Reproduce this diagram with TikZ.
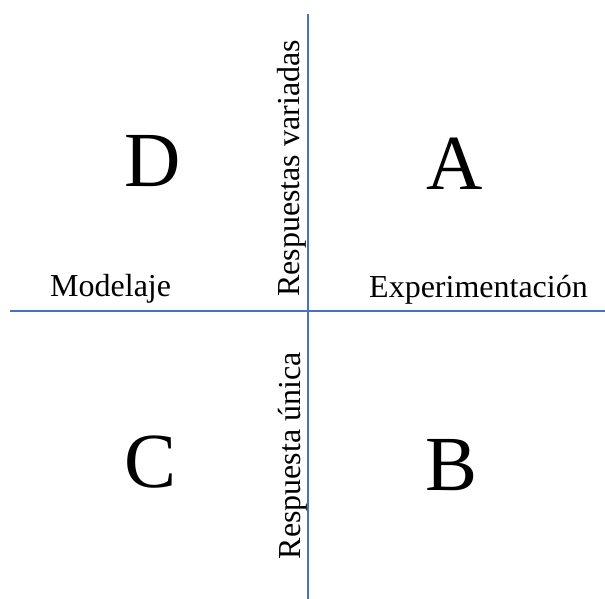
\documentclass[tikz,border=0pt]{standalone}
\usepackage{fontspec}
\setmainfont{Liberation Serif}
\definecolor{axisblue}{RGB}{68,114,196}
\tikzset{
	axisline/.style={axisblue, line width=1.4pt},
	label/.style={inner sep=0pt, font=\fontsize{32}{38}\selectfont},
	quadrant/.style={inner sep=0pt, font=\fontsize{78}{90}\selectfont}
}
\begin{document}
\begin{tikzpicture}[x=1pt, y=-1pt]
		\useasboundingbox (0,0) rectangle (605,599);

		\coordinate (top) at (308,14);
		\coordinate (bottom) at (308,599);
		\coordinate (left) at (10,311);
		\coordinate (right) at (605,311);
		\draw[axisline] (left) -- (right);
		\draw[axisline] (top) -- (bottom);

		\node[quadrant, anchor=base] (D) at (153,186) {D};
		\node[quadrant, anchor=base] (A) at (455,189) {A};
		\node[quadrant, anchor=base] (C) at (151,487) {C};
		\node[quadrant, anchor=base] (B) at (452,490) {B};

		\node[label, anchor=base west] (modelaje) at (50,296) {Modelaje};
		\node[label, anchor=base west] (exper) at (369,297) {Experimentación};
		\node[label, rotate=90, anchor=base west] (variadas) at (299,297) {Respuestas variadas};
		\node[label, rotate=90, anchor=base east] (unica) at (300,352) {Respuesta única};
	\end{tikzpicture}
\end{document}
